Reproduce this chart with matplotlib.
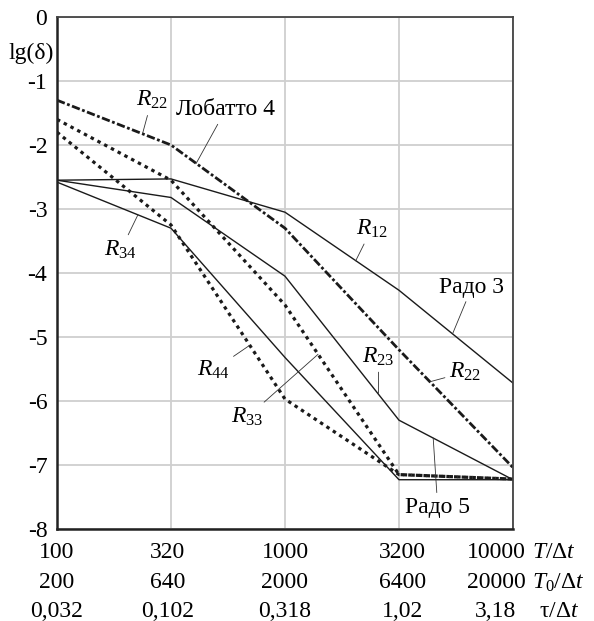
import matplotlib
matplotlib.use("Agg")
import matplotlib.pyplot as plt
import matplotlib.transforms as mtransforms

plt.rcParams['font.family'] = ['Liberation Serif', 'DejaVu Serif']
plt.rcParams['mathtext.fontset'] = 'custom'
plt.rcParams['mathtext.rm'] = 'Liberation Serif'
plt.rcParams['mathtext.it'] = 'Liberation Serif:italic'
plt.rcParams['lines.scale_dashes'] = False

# columns: T/dt = 100, 320, 1000, 3200, 10000 (equal steps in log scale)
xpos = [0, 1, 2, 3, 4]
T_dt = ['100', '320', '1000', '3200', '10000']
T0_dt = ['200', '640', '2000', '6400', '20000']
tau_dt = ['0,032', '0,102', '0,318', '1,02', '3,18']

# lg(delta) values
r22_lobatto4 = [-1.30, -2.00, -3.30, -5.20, -7.04]
r12_rado3 = [-2.55, -2.53, -3.05, -4.27, -5.72]
r23_rado5 = [-2.55, -2.82, -4.05, -6.30, -7.23]
r34 = [-2.58, -3.30, -5.32, -7.23, -7.23]
r33 = [-1.60, -2.55, -4.50, -7.15, -7.22]
r44 = [-1.80, -3.25, -5.97, -7.15, -7.22]

fs = 17
fig = plt.figure(figsize=(5.94, 6.21), dpi=100)
ax = fig.add_axes([57 / 594, 1 - 529 / 621, 456 / 594, 512 / 621])

lc = '#1a1a1a'
ax.plot(xpos, r12_rado3, color=lc, lw=1.0)
ax.plot(xpos, r23_rado5, color=lc, lw=1.0)
ax.plot(xpos, r34, color=lc, lw=1.0)
ax.plot(xpos, r33, color=lc, lw=2.3, linestyle=(0, (2.5, 3)))
ax.plot(xpos, r44, color=lc, lw=2.3, linestyle=(0, (2.5, 3)))
ax.plot(xpos, r22_lobatto4, color=lc, lw=2.0, linestyle=(0, (6, 1.8, 2, 1.8)))

ax.set_xlim(0, 4)
ax.set_ylim(-8, 0)
ax.set_xticks(xpos)
ax.set_xticklabels([])
ax.set_yticks(range(0, -9, -1))
ax.set_yticklabels([str(v) for v in range(0, -9, -1)], fontsize=fs)
ax.tick_params(length=0, pad=7)
ax.grid(True, color='#cfcfcf', lw=1.3)
ax.set_axisbelow(True)
for s in ['left', 'bottom']:
    ax.spines[s].set_linewidth(1.8)
    ax.spines[s].set_color('#222222')
for s in ['top', 'right']:
    ax.spines[s].set_linewidth(1.3)
    ax.spines[s].set_color('#444444')

fig.text(31 / 594, 1 - 53 / 621, 'lg(δ)', fontsize=fs, ha='center', va='center')

# bottom value rows
trans = mtransforms.blended_transform_factory(ax.transData, ax.transAxes)
col_x = [0, 0.97, 2.0, 3.03, 3.85]
rows_y = [-0.045, -0.105, -0.162]
for row, y in zip([T_dt, T0_dt, tau_dt], rows_y):
    for x, s in zip(col_x, row):
        ax.text(x, y, s, transform=trans, ha='center', va='center', fontsize=fs)
ax.text(4.17, rows_y[0], '$T$/Δ$t$', transform=trans, ha='left', va='center', fontsize=fs)
ax.text(4.17, rows_y[1], '$T_0$/Δ$t$', transform=trans, ha='left', va='center', fontsize=fs)
ax.text(4.23, rows_y[2], 'τ/Δ$t$', transform=trans, ha='left', va='center', fontsize=fs)

arrow = dict(arrowstyle='-', lw=0.6, color='#333333', shrinkA=1, shrinkB=0)
labels = [
    ('$R_{22}$', (0.83, -1.30), (0.75, -1.825)),
    ('Лобатто 4', (1.48, -1.45), (1.22, -2.29)),
    ('$R_{34}$', (0.56, -3.64), (0.71, -3.09)),
    ('$R_{12}$', (2.76, -3.31), (2.62, -3.81)),
    ('Радо 3', (3.64, -4.22), (3.47, -4.95)),
    ('$R_{23}$', (2.82, -5.31), (2.82, -5.88)),
    ('$R_{22}$', (3.58, -5.55), (3.27, -5.70)),
    ('Радо 5', (3.34, -7.66), (3.30, -6.58)),
    ('$R_{44}$', (1.37, -5.52), (1.69, -5.13)),
    ('$R_{33}$', (1.67, -6.25), (2.29, -5.27)),
]
for txt, tpos, pt in labels:
    ax.annotate(txt, xy=pt, xytext=tpos, ha='center', va='center', fontsize=fs,
                arrowprops=arrow)

fig.savefig('out.png', dpi=100)
